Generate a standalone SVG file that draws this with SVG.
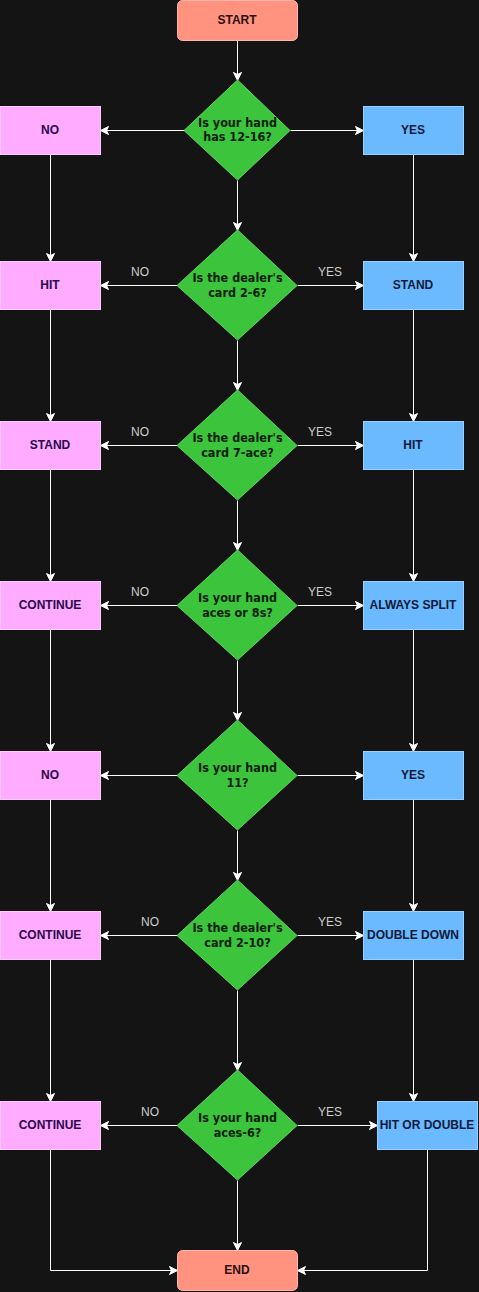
<svg xmlns="http://www.w3.org/2000/svg" width="479" height="1292" viewBox="0 0 479 1292">
<defs>
<marker id="arr" markerUnits="userSpaceOnUse" markerWidth="10" markerHeight="10" viewBox="0 0 10 10" refX="9" refY="5" orient="auto">
<path d="M1,1 L9,5 L1,9 L3,5 z" fill="#ffffff" stroke="#ffffff" stroke-width="1" stroke-linejoin="miter"/>
</marker>
<style>
.bg{fill:#141414}
.term{fill:#ff9380;stroke:#ffb6aa;stroke-width:1}
.dia{fill:#3cc43c;stroke:#62d462;stroke-width:1}
.no{fill:#ffabff;stroke:#ffc8ff;stroke-width:1}
.yes{fill:#6bb9ff;stroke:#9ccfff;stroke-width:1}
.bt{font-family:"Liberation Sans",Arial,sans-serif;font-size:12px;font-weight:bold;text-anchor:middle}
.tt{fill:#2a1010}
.nt{fill:#2a0a4a}
.yt{fill:#0f1a3a}
.dt{font-family:"DejaVu Sans Condensed","DejaVu Sans",sans-serif;font-stretch:condensed;font-size:12.5px;font-weight:bold;text-anchor:middle;fill:#0a200a}
.lbl{font-family:"Liberation Sans",Arial,sans-serif;font-size:12px;fill:#cccccc;text-anchor:middle}
.c{fill:none;stroke:#ffffff;stroke-width:1;marker-end:url(#arr)}
</style>
</defs>
<rect class="bg" x="0" y="0" width="479" height="1292"/>

<g id="connectors">
<g transform="translate(0.5,0.5)">
<path class="c" d="M237,40 V80"/>
<path class="c" d="M184,130 H100"/>
<path class="c" d="M290,130 H363"/>
<path class="c" d="M237,180 V230"/>
<path class="c" d="M50,154 V261"/>
<path class="c" d="M413,154 V261"/>
<path class="c" d="M177,285 H100"/>
<path class="c" d="M297,285 H363"/>
<path class="c" d="M237,340 V390"/>
<path class="c" d="M50,309 V421"/>
<path class="c" d="M413,309 V421"/>
<path class="c" d="M177,445 H100"/>
<path class="c" d="M297,445 H363"/>
<path class="c" d="M237,500 V550"/>
<path class="c" d="M50,469 V581"/>
<path class="c" d="M413,469 V581"/>
<path class="c" d="M177,605 H100"/>
<path class="c" d="M297,605 H363"/>
<path class="c" d="M237,660 V720"/>
<path class="c" d="M50,629 V751"/>
<path class="c" d="M413,629 V751"/>
<path class="c" d="M177,775 H100"/>
<path class="c" d="M297,775 H363"/>
<path class="c" d="M237,830 V880"/>
<path class="c" d="M50,799 V911"/>
<path class="c" d="M413,799 V911"/>
<path class="c" d="M177,935 H100"/>
<path class="c" d="M297,935 H363"/>
<path class="c" d="M237,990 V1070"/>
<path class="c" d="M50,959 V1101"/>
<path class="c" d="M413,959 V1101"/>
<path class="c" d="M177,1125 H100"/>
<path class="c" d="M297,1125 H377"/>
<path class="c" d="M237,1180 V1250"/>
<path class="c" d="M50,1149 V1270 H177"/>
<path class="c" d="M427,1149 V1270 H297"/>
</g>
<text class="lbl" x="140" y="276">NO</text>
<text class="lbl" x="330" y="276">YES</text>
<text class="lbl" x="140" y="436">NO</text>
<text class="lbl" x="320" y="436">YES</text>
<text class="lbl" x="140" y="596">NO</text>
<text class="lbl" x="320" y="596">YES</text>
<text class="lbl" x="150" y="926">NO</text>
<text class="lbl" x="330" y="926">YES</text>
<text class="lbl" x="150" y="1116">NO</text>
<text class="lbl" x="330" y="1116">YES</text>
</g>

<g id="start"><rect class="term" x="177.5" y="0.5" width="120" height="40" rx="5"/><text class="bt tt" x="237" y="24">START</text></g>

<g id="q1"><polygon class="dia" points="237.5,80 290,130.5 237.5,180 184,130.5"/><text class="dt" x="237.5" y="127">Is your hand</text><text class="dt" x="237.5" y="141">has 12-16?</text></g>
<g id="n1"><rect class="no" x="0.5" y="106.5" width="100" height="48"/><text class="bt nt" x="50" y="134">NO</text></g>
<g id="y1"><rect class="yes" x="363.5" y="106.5" width="100" height="48"/><text class="bt yt" x="413" y="134">YES</text></g>

<g id="q2"><polygon class="dia" points="237.5,230 297,285.5 237.5,340 177,285.5"/><text class="dt" x="237.5" y="282">Is the dealer's</text><text class="dt" x="237.5" y="297">card 2-6?</text></g>
<g id="n2"><rect class="no" x="0.5" y="261.5" width="100" height="48"/><text class="bt nt" x="50" y="289">HIT</text></g>
<g id="y2"><rect class="yes" x="363.5" y="261.5" width="100" height="48"/><text class="bt yt" x="413" y="289">STAND</text></g>

<g id="q3"><polygon class="dia" points="237.5,390 297,445.5 237.5,500 177,445.5"/><text class="dt" x="237.5" y="442">Is the dealer's</text><text class="dt" x="237.5" y="457">card 7-ace?</text></g>
<g id="n3"><rect class="no" x="0.5" y="421.5" width="100" height="48"/><text class="bt nt" x="50" y="449">STAND</text></g>
<g id="y3"><rect class="yes" x="363.5" y="421.5" width="100" height="48"/><text class="bt yt" x="413" y="449">HIT</text></g>

<g id="q4"><polygon class="dia" points="237.5,550 297,605.5 237.5,660 177,605.5"/><text class="dt" x="237.5" y="602">Is your hand</text><text class="dt" x="237.5" y="617">aces or 8s?</text></g>
<g id="n4"><rect class="no" x="0.5" y="581.5" width="100" height="48"/><text class="bt nt" x="50" y="609">CONTINUE</text></g>
<g id="y4"><rect class="yes" x="363.5" y="581.5" width="100" height="48"/><text class="bt yt" x="413" y="609">ALWAYS SPLIT</text></g>

<g id="q5"><polygon class="dia" points="237.5,720 297,775.5 237.5,830 177,775.5"/><text class="dt" x="237.5" y="772">Is your hand</text><text class="dt" x="237.5" y="787">11?</text></g>
<g id="n5"><rect class="no" x="0.5" y="751.5" width="100" height="48"/><text class="bt nt" x="50" y="779">NO</text></g>
<g id="y5"><rect class="yes" x="363.5" y="751.5" width="100" height="48"/><text class="bt yt" x="413" y="779">YES</text></g>

<g id="q6"><polygon class="dia" points="237.5,880 297,935.5 237.5,990 177,935.5"/><text class="dt" x="237.5" y="932">Is the dealer's</text><text class="dt" x="237.5" y="947">card 2-10?</text></g>
<g id="n6"><rect class="no" x="0.5" y="911.5" width="100" height="48"/><text class="bt nt" x="50" y="939">CONTINUE</text></g>
<g id="y6"><rect class="yes" x="363.5" y="911.5" width="100" height="48"/><text class="bt yt" x="413" y="939">DOUBLE DOWN</text></g>

<g id="q7"><polygon class="dia" points="237.5,1070 297,1125.5 237.5,1180 177,1125.5"/><text class="dt" x="237.5" y="1122">Is your hand</text><text class="dt" x="237.5" y="1137">aces-6?</text></g>
<g id="n7"><rect class="no" x="0.5" y="1101.5" width="100" height="48"/><text class="bt nt" x="50" y="1129">CONTINUE</text></g>
<g id="y7"><rect class="yes" x="377.5" y="1101.5" width="100" height="48"/><text class="bt yt" x="427" y="1129">HIT OR DOUBLE</text></g>

<g id="end"><rect class="term" x="177.5" y="1250.5" width="120" height="40" rx="5"/><text class="bt tt" x="237" y="1274">END</text></g>
</svg>
